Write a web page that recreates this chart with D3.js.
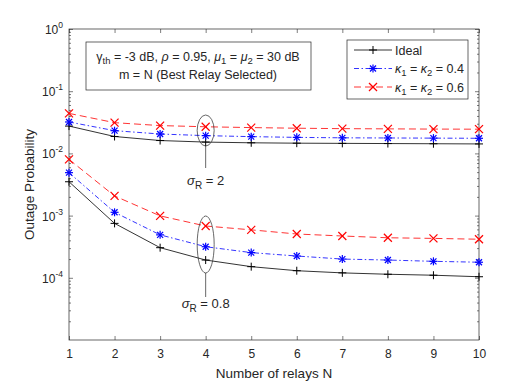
<!DOCTYPE html>
<html>
<head>
<meta charset="utf-8">
<script src="https://cdn.jsdelivr.net/npm/d3@7"></script>
<style>
  body { margin: 0; background: #fff; }
  text { font-family: "Liberation Sans", Arial, sans-serif; fill: #262626; }
</style>
</head>
<body>
<div id="chart"></div>
<script>
// relays on the x axis
var relays = [1, 2, 3, 4, 5, 6, 7, 8, 9, 10];

// sigma_R = 2
var ideal2 = [0.0275, 0.0187, 0.0161, 0.0152, 0.0148, 0.0146, 0.0145, 0.0144, 0.0143, 0.0142];
var k04_2  = [0.032, 0.0232, 0.0205, 0.0193, 0.0186, 0.0181, 0.0178, 0.0177, 0.0176, 0.0175];
var k06_2  = [0.044, 0.0312, 0.028, 0.0268, 0.026, 0.0254, 0.025, 0.0248, 0.0246, 0.0245];

// sigma_R = 0.8
var ideal08 = [0.0035, 0.00075, 0.000305, 0.000193, 0.000151, 0.00013, 0.00012, 0.000114, 0.00011, 0.000104];
var k04_08  = [0.0049, 0.00113, 0.00049, 0.000316, 0.000254, 0.000224, 0.0002, 0.000193, 0.000184, 0.000178];
var k06_08  = [0.008, 0.00207, 0.00099, 0.00068, 0.00059, 0.000506, 0.00047, 0.00044, 0.00043, 0.000417];

// labelled decades (10^-5 sits at the bottom edge without a label)
var yExp = [0, -1, -2, -3, -4];

var W = 529, H = 382;
var margin = { top: 29, right: 50, bottom: 42, left: 69 },
    width = W - margin.left - margin.right,
    height = H - margin.top - margin.bottom;

var svg = d3.select('#chart')
  .append('svg')
  .attr('width', W)
  .attr('height', H)
  .append('g')
  .attr('transform', 'translate(' + margin.left + ',' + margin.top + ')');

var x = d3.scaleLinear().domain([1, 10]).range([0, width]);
var y = d3.scaleLog().domain([1e-5, 1]).range([height, 0]);

// minor log ticks
var minor = [];
for (var e = -5; e < 0; e++) {
  for (var m = 2; m <= 9; m++) minor.push(m * Math.pow(10, e));
}

// axes with inward ticks, all four sides
var axisCol = '#262626';
svg.append('g')
  .attr('transform', 'translate(0,' + height + ')')
  .call(d3.axisBottom(x).tickValues(relays).tickSize(-4).tickPadding(9).tickFormat(d3.format('d')))
  .call(function(g) { g.select('.domain').remove(); })
  .selectAll('text').style('font-size', '12px').style('font-family', 'Liberation Sans, Arial, sans-serif').attr('fill', axisCol);

svg.append('g')
  .call(d3.axisTop(x).tickValues(relays).tickSize(-4).tickFormat(''))
  .call(function(g) { g.select('.domain').remove(); });

svg.append('g')
  .call(d3.axisLeft(y).tickValues(yExp.map(function(d) { return Math.pow(10, d); })).tickSize(-4).tickFormat(''))
  .call(function(g) { g.select('.domain').remove(); });
svg.append('g')
  .call(d3.axisLeft(y).tickValues(minor).tickSize(-2).tickFormat(''))
  .call(function(g) { g.select('.domain').remove(); });
svg.append('g')
  .attr('transform', 'translate(' + width + ',0)')
  .call(d3.axisRight(y).tickValues(yExp.map(function(d) { return Math.pow(10, d); })).tickSize(-4).tickFormat(''))
  .call(function(g) { g.select('.domain').remove(); });
svg.append('g')
  .attr('transform', 'translate(' + width + ',0)')
  .call(d3.axisRight(y).tickValues(minor).tickSize(-2).tickFormat(''))
  .call(function(g) { g.select('.domain').remove(); });

svg.selectAll('.tick line').attr('stroke', axisCol).attr('stroke-width', 0.6);

// y tick labels 10^k
yExp.forEach(function(k) {
  var t = svg.append('text')
    .attr('x', -6)
    .attr('y', y(Math.pow(10, k)) + 5)
    .attr('text-anchor', 'end')
    .style('font-size', '12px');
  t.append('tspan').text('10');
  t.append('tspan').attr('dy', -6).style('font-size', '8.5px').text(k);
});

// plot box
svg.append('rect')
  .attr('width', width).attr('height', height)
  .attr('fill', 'none').attr('stroke', axisCol).attr('stroke-width', 0.7);

// axis titles
svg.append('text')
  .attr('x', width / 2).attr('y', height + 38)
  .attr('text-anchor', 'middle').style('font-size', '13.5px')
  .text('Number of relays N');
svg.append('text')
  .attr('transform', 'translate(-35,' + (height / 2) + ') rotate(-90)')
  .attr('text-anchor', 'middle').style('font-size', '13.5px')
  .text('Outage Probability');

var line = d3.line().x(function(d, i) { return x(relays[i]); }).y(function(d) { return y(d); });

var series = [
  { data: ideal2, col: '#000000', dash: null, mk: 'plus' },
  { data: k04_2, col: '#0000ff', dash: '5,2.5,1.5,2.5', mk: 'star' },
  { data: k06_2, col: '#ff0000', dash: '7,4', mk: 'cross' },
  { data: ideal08, col: '#000000', dash: null, mk: 'plus' },
  { data: k04_08, col: '#0000ff', dash: '5,2.5,1.5,2.5', mk: 'star' },
  { data: k06_08, col: '#ff0000', dash: '7,4', mk: 'cross' }
];

function marker(g, kind, cx, cy, col) {
  var s = 4;
  var segs = [];
  if (kind == 'plus' || kind == 'star') segs.push([-s, 0, s, 0], [0, -s, 0, s]);
  if (kind == 'cross') segs.push([-s, -s, s, s], [-s, s, s, -s]);
  if (kind == 'star') { var a = s * 0.75; segs.push([-a, -a, a, a], [-a, a, a, -a]); }
  segs.forEach(function(p) {
    g.append('line')
      .attr('x1', cx + p[0]).attr('y1', cy + p[1])
      .attr('x2', cx + p[2]).attr('y2', cy + p[3])
      .attr('stroke', col).attr('stroke-width', kind == 'plus' ? 1 : 1.2);
  });
}

series.forEach(function(s) {
  svg.append('path')
    .datum(s.data)
    .attr('d', line)
    .attr('fill', 'none')
    .attr('stroke', s.col)
    .attr('stroke-width', 0.8)
    .attr('stroke-dasharray', s.dash);
  var g = svg.append('g');
  s.data.forEach(function(v, i) { marker(g, s.mk, x(relays[i]), y(v), s.col); });
});

// ellipse annotations
function annot(cyTop, cyBot, lineEnd, label, labY) {
  var cx = x(4);
  svg.append('ellipse')
    .attr('cx', cx).attr('cy', (cyTop + cyBot) / 2)
    .attr('rx', 8.5).attr('ry', (cyBot - cyTop) / 2)
    .attr('fill', 'none').attr('stroke', axisCol).attr('stroke-width', 0.7);
  svg.append('line')
    .attr('x1', cx).attr('x2', cx).attr('y1', cyBot).attr('y2', lineEnd)
    .attr('stroke', axisCol).attr('stroke-width', 0.7);
  var t = svg.append('text').attr('x', cx).attr('y', labY).attr('text-anchor', 'middle').style('font-size', '13px');
  t.append('tspan').style('font-style', 'italic').text('σ');
  t.append('tspan').attr('dy', 4).style('font-size', '10px').text('R');
  t.append('tspan').attr('dy', -4).text(' = ' + label);
}
annot(115 - margin.top, 146 - margin.top, 168 - margin.top, '2', 185 - margin.top);
annot(216 - margin.top, 273 - margin.top, 297 - margin.top, '0.8', 308 - margin.top);

// parameter text box
var bx = 86 - margin.left, by = 42 - margin.top;
svg.append('rect')
  .attr('x', bx).attr('y', by).attr('width', 225).attr('height', 48)
  .attr('fill', '#fff').attr('stroke', axisCol).attr('stroke-width', 0.7);
var t1 = svg.append('text').attr('x', bx + 112).attr('y', by + 19).attr('text-anchor', 'middle').style('font-size', '12.5px');
t1.append('tspan').text('γ');
t1.append('tspan').attr('dy', 3).style('font-size', '9.5px').text('th');
t1.append('tspan').attr('dy', -3).text(' = -3 dB, ');
t1.append('tspan').style('font-style', 'italic').text('ρ');
t1.append('tspan').text(' = 0.95, ');
t1.append('tspan').style('font-style', 'italic').text('μ');
t1.append('tspan').attr('dy', 3).style('font-size', '9.5px').text('1');
t1.append('tspan').attr('dy', -3).text(' = ');
t1.append('tspan').style('font-style', 'italic').text('μ');
t1.append('tspan').attr('dy', 3).style('font-size', '9.5px').text('2');
t1.append('tspan').attr('dy', -3).text(' = 30 dB');
svg.append('text').attr('x', bx + 112).attr('y', by + 37).attr('text-anchor', 'middle').style('font-size', '12.5px')
  .text('m = N (Best Relay Selected)');

// legend
var lx = 347 - margin.left, ly = 40 - margin.top;
svg.append('rect')
  .attr('x', lx).attr('y', ly).attr('width', 121).attr('height', 59)
  .attr('fill', '#fff').attr('stroke', axisCol).attr('stroke-width', 0.7);
var leg = [
  { s: series[0], label: 'Ideal' },
  { s: series[1], label: '0.4' },
  { s: series[2], label: '0.6' }
];
leg.forEach(function(d, i) {
  var yy = ly + 10 + i * 18.5;
  svg.append('line')
    .attr('x1', lx + 7).attr('x2', lx + 45).attr('y1', yy).attr('y2', yy)
    .attr('stroke', d.s.col).attr('stroke-width', 0.8).attr('stroke-dasharray', d.s.dash);
  marker(svg, d.s.mk, lx + 26, yy, d.s.col);
  var t = svg.append('text').attr('x', lx + 48).attr('y', yy + 4.5).style('font-size', '12.5px');
  if (i == 0) { t.text('Ideal'); return; }
  t.append('tspan').style('font-style', 'italic').text('κ');
  t.append('tspan').attr('dy', 3).style('font-size', '9.5px').text('1');
  t.append('tspan').attr('dy', -3).text(' = ');
  t.append('tspan').style('font-style', 'italic').text('κ');
  t.append('tspan').attr('dy', 3).style('font-size', '9.5px').text('2');
  t.append('tspan').attr('dy', -3).text(' = ' + d.label);
});
</script>
</body>
</html>
